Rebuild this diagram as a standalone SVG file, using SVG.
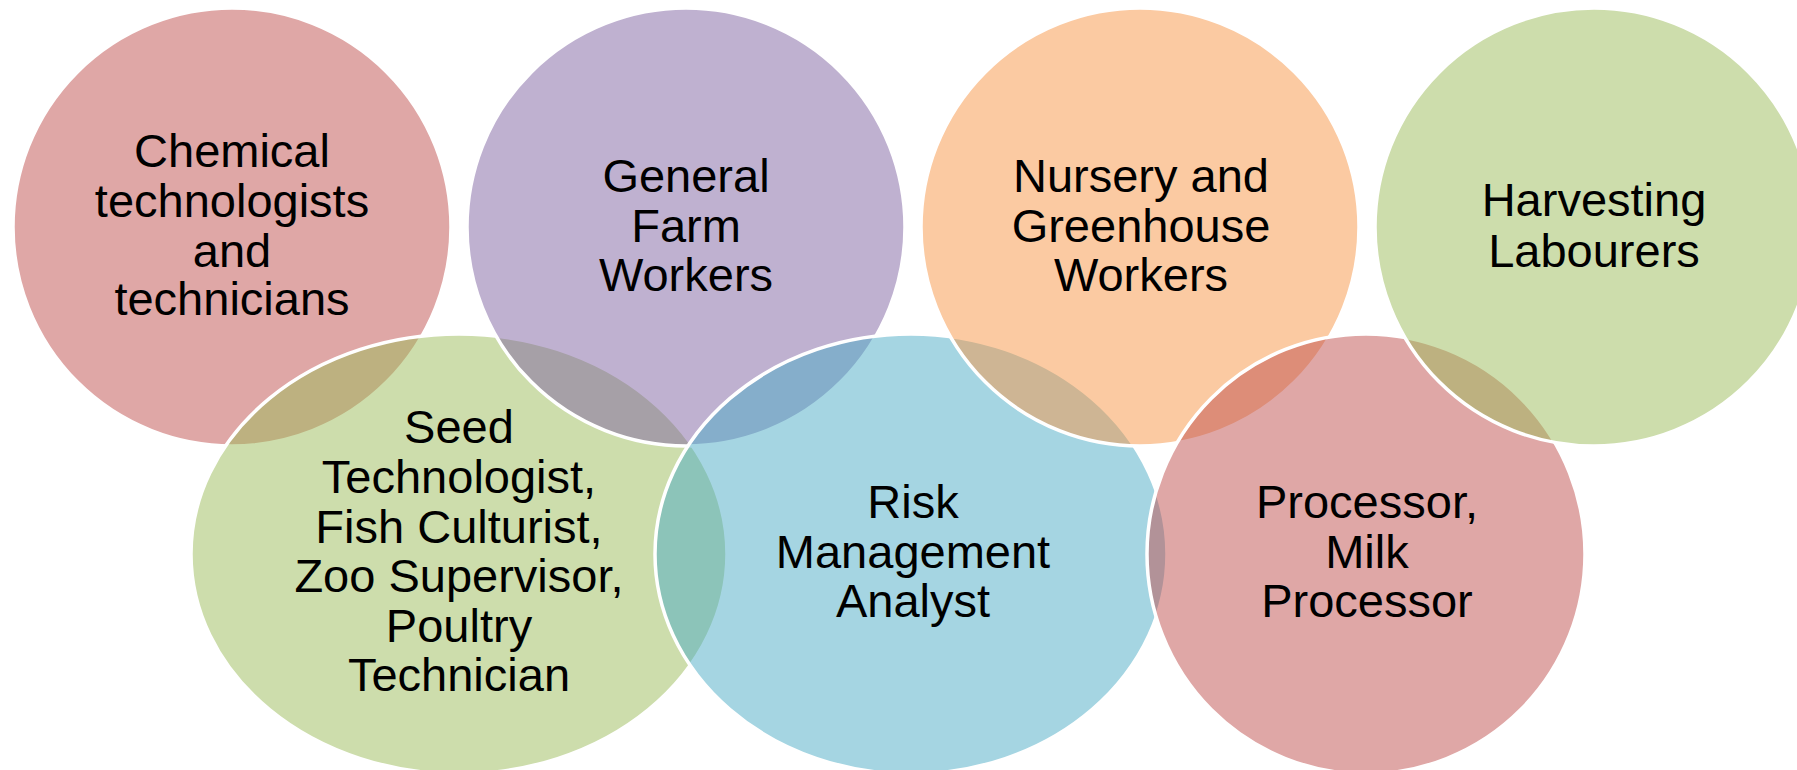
<svg xmlns="http://www.w3.org/2000/svg" width="1797" height="770" viewBox="0 0 1797 770">
<style>
  .c { stroke: #FFFFFF; stroke-width: 3.5; fill-opacity: 0.5; }
  .red { fill: #C0504D; }
  .green { fill: #9BBB59; }
  .purple { fill: #8064A2; }
  .aqua { fill: #4BACC6; }
  .orange { fill: #F79646; }
  text { font-family: "Liberation Sans", Arial, sans-serif; font-size: 47px; fill: #000000; text-anchor: middle; }
</style>
<rect x="0" y="0" width="1797" height="770" fill="#FFFFFF"/>
<g id="connectors"></g>
<g id="node-chemical">
  <ellipse class="c red" cx="232" cy="227" rx="219" ry="219"/>
</g>
<g id="node-seed">
  <ellipse class="c green" cx="459" cy="554" rx="268" ry="220"/>
</g>
<g id="node-general">
  <ellipse class="c purple" cx="686" cy="227" rx="219" ry="219"/>
</g>
<g id="node-risk">
  <ellipse class="c aqua" cx="911" cy="554" rx="256" ry="220"/>
</g>
<g id="node-nursery">
  <ellipse class="c orange" cx="1140" cy="227" rx="219" ry="219"/>
</g>
<g id="node-processor">
  <ellipse class="c red" cx="1366" cy="554" rx="219" ry="220"/>
</g>
<g id="node-harvesting">
  <ellipse class="c green" cx="1594" cy="227" rx="219" ry="219"/>
</g>
<g id="labels">
  <text x="232" y="167">Chemical</text>
  <text x="232" y="216.5">technologists</text>
  <text x="232" y="266.5">and</text>
  <text x="232" y="315">technicians</text>

  <text x="686" y="192">General</text>
  <text x="686" y="241.5">Farm</text>
  <text x="686" y="291">Workers</text>

  <text x="1141" y="192">Nursery and</text>
  <text x="1141" y="241.5">Greenhouse</text>
  <text x="1141" y="291">Workers</text>

  <text x="1594" y="216">Harvesting</text>
  <text x="1594" y="266.5">Labourers</text>

  <text x="459" y="443">Seed</text>
  <text x="459" y="492.7">Technologist,</text>
  <text x="459" y="542.5">Fish Culturist,</text>
  <text x="459" y="592.3">Zoo Supervisor,</text>
  <text x="459" y="642">Poultry</text>
  <text x="459" y="691">Technician</text>

  <text x="913" y="518">Risk</text>
  <text x="913" y="567.5">Management</text>
  <text x="913" y="617">Analyst</text>

  <text x="1367" y="518">Processor,</text>
  <text x="1367" y="567.5">Milk</text>
  <text x="1367" y="617">Processor</text>
</g>
</svg>
